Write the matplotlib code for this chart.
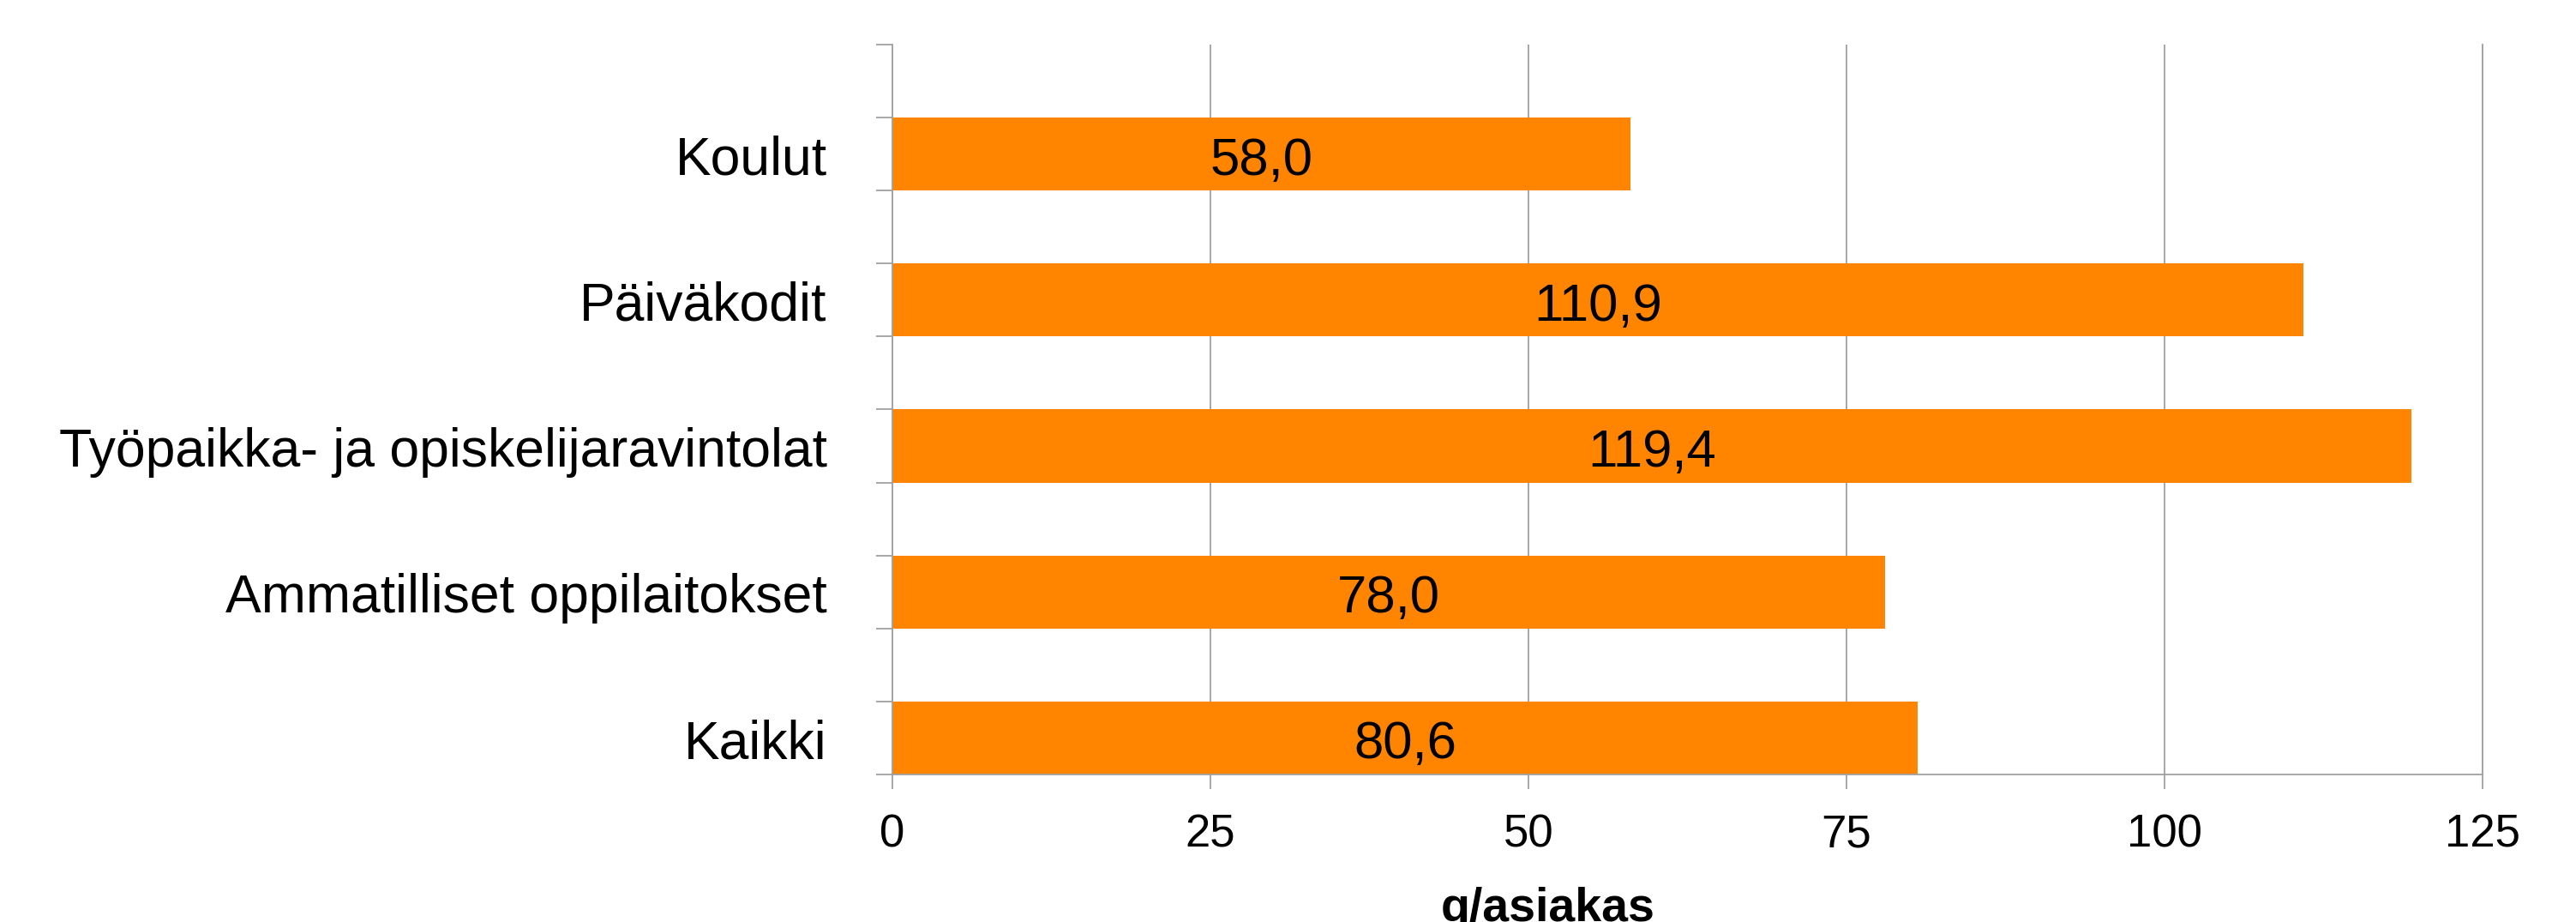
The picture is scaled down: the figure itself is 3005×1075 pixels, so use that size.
import matplotlib
matplotlib.use("Agg")
import matplotlib.pyplot as plt
import matplotlib.transforms as mtransforms
import numpy as np

plt.rcParams['font.family'] = ['Liberation Sans', 'DejaVu Sans']

categories = ["Koulut", "Päiväkodit", "Työpaikka- ja opiskelijaravintolat",
              "Ammatilliset oppilaitokset", "Kaikki"]
values = [58.0, 110.9, 119.4, 78.0, 80.6]
xticks = [0, 25, 50, 75, 100, 125]
xlabel = "g/asiakas"

W, H = 3005, 1075
fig = plt.figure(figsize=(W / 100, H / 100), dpi=100)
left, right, top, bottom = 1041, 2896, 52, 903
ax = fig.add_axes([left / W, 1 - bottom / H, (right - left) / W, (bottom - top) / H])

# baseline shift: text baseline sits ~24 px below bar centre
shift = mtransforms.ScaledTranslation(0, -24 / 100, fig.dpi_scale_trans)

n = len(categories)
ypos = np.arange(n)[::-1]
ax.barh(ypos, values, height=0.5, color='#ff8400', zorder=2)

for yi, v in zip(ypos, values):
    ax.text(v / 2, yi, f"{v:.1f}".replace('.', ','), ha='center', va='baseline',
            fontsize=44.5, color='black', zorder=3,
            transform=ax.transData + shift)

ax.set_xlim(0, 125)
ax.set_ylim(-0.25, n - 0.25)
ax.set_xticks(xticks)
ax.set_xticklabels([str(t) for t in xticks])
ax.set_yticks(ypos)
ax.set_yticklabels(categories)
ax.set_yticks(np.arange(-0.25, n - 0.2, 0.5), minor=True)

gray = '#a0a0a0'
ax.xaxis.grid(True, color=gray, lw=1.3, zorder=0)
ax.set_axisbelow(True)
ax.spines['top'].set_visible(False)
for s in ['left', 'bottom', 'right']:
    ax.spines[s].set_color(gray)
    ax.spines[s].set_linewidth(1.3)

ax.tick_params(axis='y', which='major', length=0, pad=55, labelsize=45)
ax.tick_params(axis='y', which='minor', length=14, width=1.3, color=gray)
ax.tick_params(axis='x', which='major', length=12, width=1.3, color=gray, pad=21, labelsize=38)

for lab in ax.get_yticklabels():
    lab.set_va('baseline')
    lab.set_transform(lab.get_transform() + shift)

fig.text(1806 / W, 1.5 / H, xlabel, ha='center', va='baseline', fontsize=40, fontweight='bold')

fig.savefig("out.png", dpi=100)
